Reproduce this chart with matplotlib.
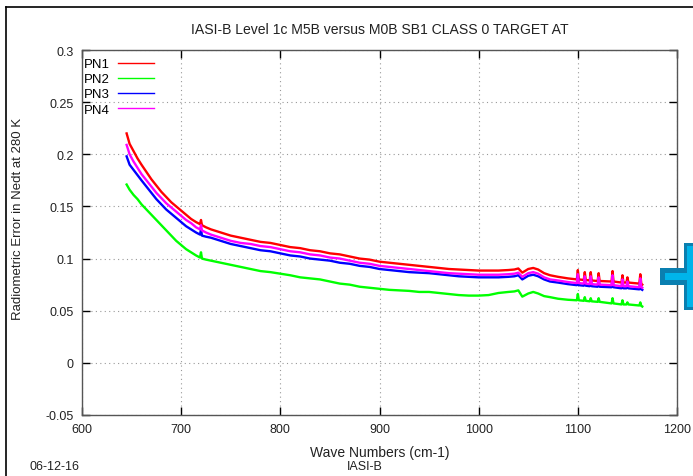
import matplotlib
matplotlib.use("Agg")
import matplotlib.pyplot as plt
from matplotlib.patches import Polygon
from matplotlib.lines import Line2D

plt.rcParams['font.family'] = ['Liberation Sans', 'DejaVu Sans']

title = "IASI-B Level 1c M5B versus M0B SB1 CLASS 0 TARGET AT"
xlabel = "Wave Numbers (cm-1)"
ylabel = "Radiometric Error in Nedt at 280 K"
date_text = "06-12-16"
footer_text = "IASI-B"
series_names = ["PN1", "PN2", "PN3", "PN4"]
xticks = [600, 700, 800, 900, 1000, 1100, 1200]
yticks = [-0.05, 0, 0.05, 0.1, 0.15, 0.2, 0.25, 0.3]
ytick_labels = ["-0.05", "0", "0.05", "0.1", "0.15", "0.2", "0.25", "0.3"]

wn = [645, 648, 652, 656, 660, 665, 670, 675, 680, 685, 690, 695, 700, 705, 710, 715,
      719, 720, 721, 725, 730,
      740, 750, 760, 770, 780, 790, 800, 810, 820, 830, 840, 850, 860, 870, 880, 890,
      900, 910, 920, 930, 940, 950, 960, 970, 980, 990, 1000, 1010, 1020, 1030,
      1036, 1040, 1044, 1050, 1055, 1060, 1066, 1072, 1080, 1090,
      1099, 1100, 1101, 1106, 1107, 1108, 1112, 1113, 1114, 1120, 1121, 1122,
      1134, 1135, 1136, 1144, 1145, 1146, 1149, 1150, 1151, 1162, 1163, 1164, 1165]

pn1 = [0.220, 0.210, 0.203, 0.196, 0.190, 0.183, 0.176, 0.170, 0.164, 0.159, 0.154, 0.150, 0.146, 0.142, 0.138, 0.135,
       0.133, 0.137, 0.132, 0.130, 0.128,
       0.125, 0.122, 0.120, 0.118, 0.116, 0.115, 0.113, 0.111, 0.110, 0.108, 0.107, 0.105, 0.104, 0.102, 0.100, 0.099,
       0.097, 0.096, 0.095, 0.094, 0.093, 0.092, 0.091, 0.090, 0.0895, 0.089, 0.0885, 0.0885, 0.0885, 0.089,
       0.0895, 0.0905, 0.0865, 0.090, 0.091, 0.0895, 0.086, 0.084, 0.0825, 0.081,
       0.080, 0.089, 0.080, 0.0795, 0.087, 0.0795, 0.079, 0.087, 0.079, 0.0785, 0.086, 0.0785,
       0.078, 0.088, 0.078, 0.077, 0.084, 0.077, 0.077, 0.082, 0.077, 0.076, 0.085, 0.076, 0.075]

pn2 = [0.171, 0.166, 0.161, 0.157, 0.152, 0.147, 0.142, 0.137, 0.132, 0.127, 0.122, 0.117, 0.113, 0.109, 0.106, 0.103,
       0.101, 0.106, 0.100, 0.099, 0.098,
       0.096, 0.094, 0.092, 0.090, 0.088, 0.087, 0.0855, 0.084, 0.082, 0.081, 0.080, 0.078, 0.076, 0.075, 0.073, 0.072,
       0.071, 0.070, 0.0695, 0.069, 0.068, 0.068, 0.067, 0.066, 0.065, 0.0645, 0.0645, 0.065, 0.067, 0.068,
       0.0685, 0.0695, 0.0635, 0.0665, 0.068, 0.0665, 0.064, 0.063, 0.0615, 0.0605,
       0.060, 0.066, 0.060, 0.0595, 0.063, 0.0595, 0.059, 0.062, 0.059, 0.0585, 0.062, 0.0585,
       0.057, 0.062, 0.057, 0.056, 0.060, 0.056, 0.056, 0.058, 0.056, 0.055, 0.058, 0.0545, 0.054]

pn3 = [0.198, 0.190, 0.185, 0.180, 0.175, 0.169, 0.163, 0.157, 0.152, 0.147, 0.143, 0.139, 0.135, 0.131, 0.128, 0.125,
       0.123, 0.128, 0.122, 0.121, 0.120,
       0.117, 0.114, 0.112, 0.110, 0.108, 0.107, 0.105, 0.103, 0.102, 0.100, 0.099, 0.098, 0.096, 0.095, 0.093, 0.092,
       0.090, 0.089, 0.088, 0.087, 0.0865, 0.086, 0.085, 0.084, 0.083, 0.0825, 0.082, 0.082, 0.082, 0.0825,
       0.083, 0.084, 0.080, 0.0835, 0.0845, 0.083, 0.080, 0.078, 0.077, 0.0755,
       0.0745, 0.083, 0.0745, 0.074, 0.081, 0.074, 0.0735, 0.081, 0.0735, 0.073, 0.080, 0.073,
       0.0725, 0.082, 0.0725, 0.0715, 0.078, 0.0715, 0.0715, 0.076, 0.0715, 0.0705, 0.079, 0.0705, 0.070]

pn4 = [0.209, 0.200, 0.193, 0.187, 0.181, 0.175, 0.169, 0.163, 0.158, 0.153, 0.149, 0.145, 0.141, 0.137, 0.134, 0.130,
       0.128, 0.132, 0.127, 0.125, 0.123,
       0.120, 0.117, 0.115, 0.114, 0.112, 0.111, 0.109, 0.107, 0.106, 0.104, 0.103, 0.101, 0.100, 0.098, 0.096, 0.095,
       0.093, 0.092, 0.091, 0.090, 0.089, 0.088, 0.087, 0.086, 0.0855, 0.085, 0.0845, 0.0845, 0.0845, 0.085,
       0.0855, 0.0865, 0.0825, 0.086, 0.087, 0.0855, 0.082, 0.080, 0.079, 0.0775,
       0.0765, 0.085, 0.0765, 0.076, 0.083, 0.076, 0.0755, 0.083, 0.0755, 0.075, 0.082, 0.075,
       0.0745, 0.084, 0.0745, 0.0735, 0.080, 0.0735, 0.0735, 0.078, 0.0735, 0.0725, 0.081, 0.0725, 0.072]

colors = ["#ff0000", "#00ff00", "#0000ff", "#ff00ff"]

fig = plt.figure(figsize=(6.93, 4.77), dpi=100)
ax = fig.add_axes([82/693, 1-416/477, (677-82)/693, (416-51)/477])

for name, vals, c in zip(series_names, [pn1, pn2, pn3, pn4], colors):
    ax.plot(wn, vals, color=c, lw=1.7, label=name)

ax.set_xlim(600, 1200)
ax.set_ylim(-0.05, 0.3)
ax.set_xticks(xticks)
ax.set_yticks(yticks)
ax.set_yticklabels(ytick_labels)
ax.tick_params(direction='in', length=6, width=1, top=True, right=True,
               labelsize=9, pad=6, colors='black', labelcolor='#222222')
ax.grid(True, color='#999999', linestyle=(0, (1, 3)), lw=0.8)
for s in ax.spines.values():
    s.set_color('#555555')
    s.set_linewidth(1.0)

ax.set_xlabel(xlabel, fontsize=10, color='#222222', labelpad=7)
ax.set_ylabel(ylabel, fontsize=9.5, color='#222222')
ax.yaxis.set_label_coords(-(82 - 24) / 595, (416 - 219) / 365)
fig.text(0.5 * (82 + 677) / 693, 1 - 30/477, title, ha='center', va='center', fontsize=10.1, color='#222222')
fig.text(30/693, 1 - 467/477, date_text, ha='left', va='center', fontsize=9, color='#222222')
fig.text(365/693, 1 - 467/477, footer_text, ha='center', va='center', fontsize=9, color='#222222')

leg = ax.legend(loc='upper left', bbox_to_anchor=(-0.001, 0.9855), frameon=False, markerfirst=False,
                fontsize=9.5, handlelength=2.7, handletextpad=0.6, labelspacing=0.22,
                borderaxespad=0.0, borderpad=0.2)
for line in leg.get_lines():
    line.set_linewidth(1.0)

# outer frame lines (left and top)
fig.add_artist(Line2D([6/693, 6/693], [0, 1 - 8/477], color='black', lw=1.2, transform=fig.transFigure))
fig.add_artist(Line2D([6/693, 1], [1 - 8/477, 1 - 8/477], color='black', lw=1.2, transform=fig.transFigure))

# partial blue plus icon at right edge
def px(x, y):
    return (x/693, 1 - y/477)

outer = [px(684, 244), px(700, 244), px(700, 311), px(684, 311), px(684, 286), px(660, 286),
         px(660, 269), px(684, 269)]
inner = [px(687, 247), px(700, 247), px(700, 308), px(687, 308), px(687, 281), px(665, 281),
         px(665, 274), px(687, 274)]
fig.add_artist(Polygon(outer, closed=True, facecolor='#0a7fb0', edgecolor='none', transform=fig.transFigure))
fig.add_artist(Polygon(inner, closed=True, facecolor='#00b4ea', edgecolor='none', transform=fig.transFigure))

fig.savefig("out.png", dpi=100)
